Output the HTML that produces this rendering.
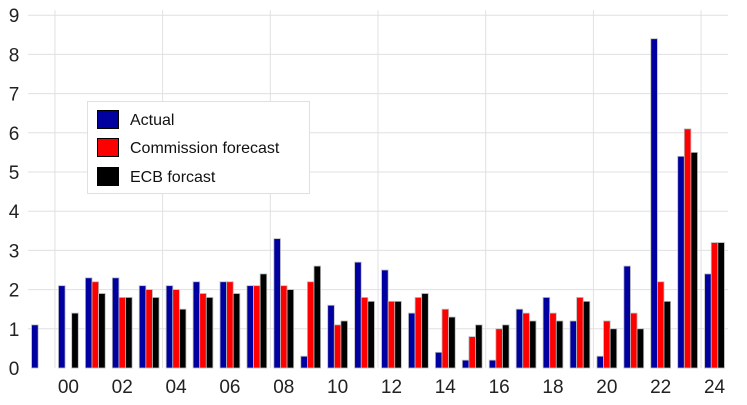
<!DOCTYPE html>
<html><head><meta charset="utf-8"><style>
body{margin:0;background:#fff;}
svg{display:block;font-family:"Liberation Sans",sans-serif;}
</style></head><body>
<svg id="c" width="747" height="405"></svg>
<script>
const years=["99","00","01","02","03","04","05","06","07","08","09","10","11","12","13","14","15","16","17","18","19","20","21","22","23","24"];
const actual=[1.1,2.1,2.3,2.3,2.1,2.1,2.2,2.2,2.1,3.3,0.3,1.6,2.7,2.5,1.4,0.4,0.2,0.2,1.5,1.8,1.2,0.3,2.6,8.4,5.4,2.4];
const commission=[null,null,2.2,1.8,2.0,2.0,1.9,2.2,2.1,2.1,2.2,1.1,1.8,1.7,1.8,1.5,0.8,1.0,1.4,1.4,1.8,1.2,1.4,2.2,6.1,3.2];
const ecb=[null,1.4,1.9,1.8,1.8,1.5,1.8,1.9,2.4,2.0,2.6,1.2,1.7,1.7,1.9,1.3,1.1,1.1,1.2,1.2,1.7,1.0,1.0,1.7,5.5,3.2];
const yTicks=[0,1,2,3,4,5,6,7,8,9];
const NS="http://www.w3.org/2000/svg";
const svg=document.getElementById('c');
const L=28,R=728,Y0=368,UNIT=39.2;
const gw=(R-L)/years.length;
const y=v=>Y0-v*UNIT;
const xc=i=>L+gw*(i+0.5);
function mk(t,a){const e=document.createElementNS(NS,t);for(const k in a)e.setAttribute(k,a[k]);svg.appendChild(e);return e;}
yTicks.forEach(t=>{
  if(t>0){const g=mk('line',{x1:L,x2:R,y1:y(t),y2:y(t),stroke:'#e0e0e0','stroke-width':1});
  
  }
  const tx=mk('text',{x:14,y:y(t)+7,'text-anchor':'middle','font-size':19,fill:'#222'});
  tx.textContent=t;
  
  
});
for(let i=1;i<years.length;i+=4){
  const gx=L+gw*i;
  const g=mk('line',{x1:gx,x2:gx,y1:y(9)-5,y2:Y0,stroke:'#e0e0e0','stroke-width':1});
  
  
}
const series=[[actual,'#0000a0','bar-actual'],[commission,'#ff0000','bar-commission'],[ecb,'#000000','bar-ecb']];
const bw=6.6;
years.forEach((yr,i)=>{
  series.forEach((s,j)=>{
    const v=s[0][i]; if(v==null)return;
    const bx=xc(i)+(j-1)*bw-bw/2;
    const r=mk('rect',{x:bx,y:y(v),width:bw,height:v*UNIT,fill:s[1],stroke:'#bbb','stroke-width':0.8});
    
    
  });
  if(i%2===1){
    const t=mk('text',{x:xc(i),y:393,'text-anchor':'middle','font-size':19,fill:'#222'});
    t.textContent=yr;
    
    
  }
});
const lg=mk('rect',{x:87.5,y:101.5,width:222,height:92,fill:'#fff',stroke:'#e0e0e0'});


[['Actual','#0000a0',110],['Commission forecast','#ff0000',138],['ECB forcast','#000000',167]].forEach(e=>{
  const s=mk('rect',{x:97.5,y:e[2]+0.5,width:21,height:18,fill:e[1],stroke:'#000','stroke-width':1});
  
  
  const t=mk('text',{x:130,y:e[2]+15,'font-size':16,fill:'#111'});
  t.textContent=e[0];
  
  
});
</script>
</body></html>
